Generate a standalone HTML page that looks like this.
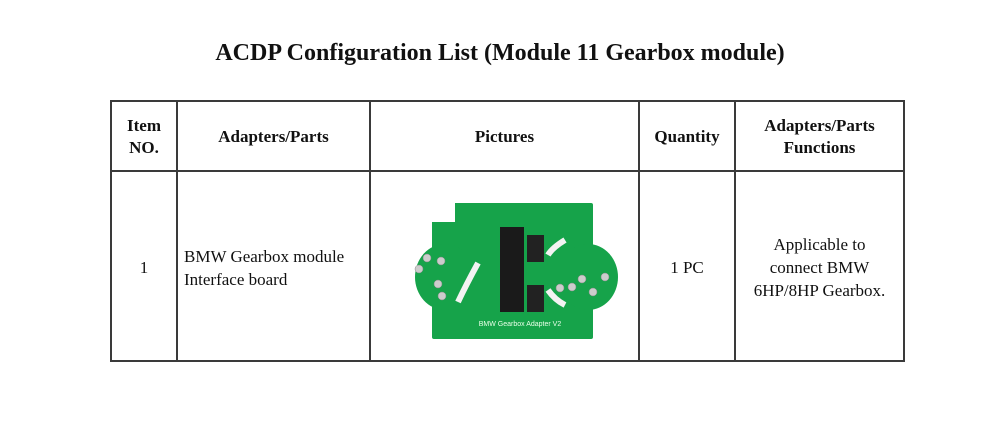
<!DOCTYPE html>
<html><head><style>
body{margin:0;width:1000px;height:430px;background:#fff;position:relative;overflow:hidden;font-family:"Liberation Serif",serif;color:#111}
.t{position:absolute;text-align:center}
.l{position:absolute;background:#3a3a3a}
h1{position:absolute;top:40px;left:0;width:1000px;margin:0;text-align:center;font-size:24px;font-weight:bold}
.h{font-weight:bold;font-size:17px;line-height:22px}
.c{font-size:17px;line-height:23px}
</style></head><body>
<h1>ACDP Configuration List (Module 11 Gearbox module)</h1>
<div class="l" style="left:110px;top:100px;width:795px;height:2px"></div>
<div class="l" style="left:110px;top:170px;width:795px;height:2px"></div>
<div class="l" style="left:110px;top:360px;width:795px;height:2px"></div>
<div class="l" style="left:110px;top:100px;width:2px;height:262px"></div>
<div class="l" style="left:176px;top:100px;width:2px;height:262px"></div>
<div class="l" style="left:369px;top:100px;width:2px;height:262px"></div>
<div class="l" style="left:638px;top:100px;width:2px;height:262px"></div>
<div class="l" style="left:734px;top:100px;width:2px;height:262px"></div>
<div class="l" style="left:903px;top:100px;width:2px;height:262px"></div>
<div class="t h" style="left:112px;width:64px;top:115px">Item<br>NO.</div>
<div class="t h" style="left:178px;width:191px;top:126px">Adapters/Parts</div>
<div class="t h" style="left:371px;width:267px;top:126px">Pictures</div>
<div class="t h" style="left:640px;width:94px;top:126px">Quantity</div>
<div class="t h" style="left:736px;width:167px;top:115px">Adapters/Parts<br>Functions</div>
<div class="t c" style="left:112px;width:64px;top:256px">1</div>
<div class="c" style="position:absolute;left:184px;top:245px">BMW Gearbox module<br>Interface board</div>
<div class="t c" style="left:640px;width:94px;top:256px">1 PC</div>
<div class="t c" style="left:736px;width:167px;top:233px">Applicable to<br>connect BMW<br>6HP/8HP Gearbox.</div>
<svg style="position:absolute;left:400px;top:190px" width="240" height="160" viewBox="0 0 240 160">
<g fill="#16a34a">
<rect x="32" y="13" width="161" height="136" rx="2"/>
<ellipse cx="45" cy="87" rx="30" ry="33"/>
<ellipse cx="188" cy="87" rx="30" ry="33"/>
</g>
<rect x="32" y="12" width="23" height="20" fill="#fff"/>
<rect x="100" y="37" width="24" height="85" fill="#1a1a1a"/>
<rect x="127" y="45" width="17" height="27" fill="#222"/>
<rect x="127" y="95" width="17" height="27" fill="#222"/>
<path d="M78 73 Q66 95 58 112" stroke="#f3f3f3" stroke-width="6" fill="none"/>
<path d="M165 50 Q152 58 148 65" stroke="#f3f3f3" stroke-width="6" fill="none"/>
<path d="M148 100 Q155 110 165 115" stroke="#f3f3f3" stroke-width="6" fill="none"/>
<g fill="#ccc" stroke="#888" stroke-width="0.5">
<circle cx="27" cy="68" r="4"/><circle cx="19" cy="79" r="4"/><circle cx="41" cy="71" r="4"/>
<circle cx="38" cy="94" r="4"/><circle cx="42" cy="106" r="4"/>
<circle cx="205" cy="87" r="4"/><circle cx="182" cy="89" r="4"/><circle cx="172" cy="97" r="4"/>
<circle cx="160" cy="98" r="4"/><circle cx="193" cy="102" r="4"/>
</g>
<text x="120" y="136" font-size="7" fill="#e8ffe8" text-anchor="middle" font-family="Liberation Sans,sans-serif">BMW Gearbox Adapter V2</text>
</svg>
</body></html>
